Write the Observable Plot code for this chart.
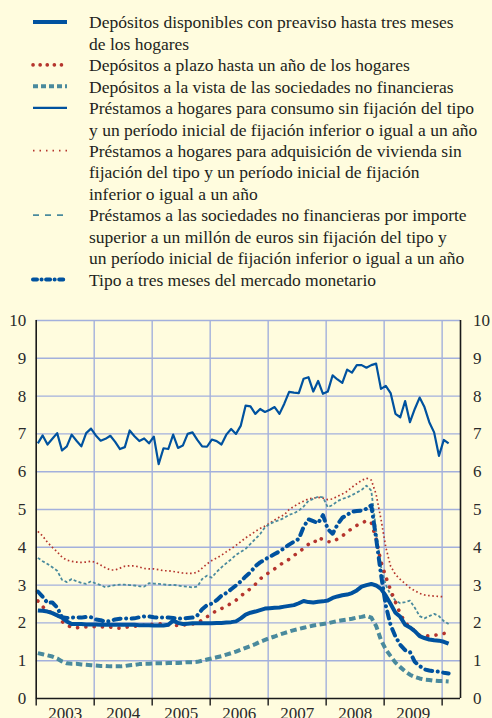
<!DOCTYPE html>
<html><head><meta charset="utf-8">
<script src="https://cdn.jsdelivr.net/npm/d3@7"></script>
<script src="https://cdn.jsdelivr.net/npm/@observablehq/plot@0.6"></script>
<style>
html,body{margin:0;padding:0;background:#fffcde;}
body{width:492px;height:718px;overflow:hidden;font-family:"Liberation Serif","Times New Roman",serif;}
#legend{display:block;}
#chart svg{display:block;}
</style></head><body>
<div id="legend"></div><div id="chart"></div>
<script>
// ---- data (monthly, Jan 2003 - Feb 2010) ----
const years = ["2003","2004","2005","2006","2007","2008","2009"];
const yTicks = [0,1,2,3,4,5,6,7,8,9,10];

const preaviso = [2.33,2.32,2.30,2.26,2.20,2.14,2.04,1.97,1.97,1.97,1.96,1.96,
1.96,1.95,1.95,1.95,1.95,1.95,1.95,1.95,1.95,1.94,1.94,1.94,
1.93,1.93,1.93,1.95,2.06,2.00,1.97,1.98,1.99,1.99,1.99,1.99,
1.99,2.00,2.00,2.01,2.02,2.04,2.12,2.22,2.27,2.30,2.34,2.38,
2.39,2.40,2.41,2.43,2.45,2.47,2.52,2.58,2.55,2.54,2.56,2.57,
2.59,2.66,2.70,2.73,2.75,2.79,2.86,2.96,3.00,3.03,2.99,2.90,
2.72,2.50,2.27,2.16,1.95,1.88,1.78,1.65,1.60,1.56,1.54,1.53,
1.50,1.45];

const plazo = [2.58,2.43,2.32,2.27,2.21,2.04,1.93,1.89,1.87,1.89,1.89,1.90,
1.90,1.89,1.89,1.89,1.87,1.86,1.88,1.90,1.91,1.92,1.94,1.96,
1.96,1.97,1.98,1.95,1.93,1.93,1.94,1.96,1.97,1.99,2.08,2.16,
2.25,2.32,2.38,2.44,2.52,2.60,2.72,2.80,2.91,3.02,3.16,3.27,
3.34,3.43,3.52,3.62,3.68,3.78,3.88,3.97,4.08,4.09,4.26,4.20,
4.15,4.14,4.22,4.30,4.40,4.50,4.58,4.63,4.71,4.65,4.22,3.62,
3.22,2.87,2.55,2.24,2.02,1.88,1.80,1.67,1.65,1.66,1.67,1.69,
1.72,1.74];

const vista = [1.20,1.17,1.14,1.11,1.06,0.98,0.93,0.92,0.92,0.90,0.89,0.88,
0.87,0.86,0.86,0.85,0.85,0.85,0.86,0.88,0.89,0.91,0.92,0.92,
0.93,0.93,0.93,0.94,0.94,0.94,0.95,0.96,0.96,0.97,1.00,1.03,
1.06,1.09,1.12,1.16,1.20,1.24,1.29,1.34,1.39,1.44,1.50,1.55,
1.60,1.64,1.69,1.73,1.77,1.81,1.84,1.87,1.90,1.93,1.95,1.97,
1.99,2.02,2.05,2.07,2.09,2.11,2.14,2.16,2.19,2.14,1.92,1.55,
1.30,1.12,0.95,0.83,0.72,0.63,0.57,0.53,0.50,0.49,0.47,0.46,
0.46,0.45];

const consumo = [6.75,6.96,6.72,6.87,7.02,6.56,6.67,6.98,6.82,6.67,7.02,7.14,
6.96,6.82,6.87,6.95,6.79,6.60,6.65,7.09,6.94,6.81,6.88,6.75,
6.93,6.20,6.62,6.60,6.98,6.63,6.69,7.00,7.04,6.84,6.67,6.66,
6.85,6.81,6.72,6.98,7.13,7.00,7.22,7.75,7.73,7.53,7.66,7.58,
7.64,7.71,7.53,7.80,8.11,8.09,8.08,8.46,8.50,8.12,8.40,8.06,
8.12,8.55,8.44,8.35,8.70,8.62,8.82,8.82,8.75,8.82,8.86,8.19,
8.27,8.08,7.53,7.44,7.87,7.31,7.66,7.96,7.71,7.31,7.04,6.42,
6.84,6.75];

const vivienda = [4.42,4.30,4.13,4.00,3.88,3.74,3.66,3.63,3.61,3.60,3.61,3.63,
3.60,3.53,3.46,3.40,3.40,3.45,3.50,3.51,3.51,3.48,3.44,3.43,
3.43,3.41,3.38,3.38,3.36,3.34,3.32,3.31,3.31,3.34,3.45,3.56,
3.65,3.72,3.79,3.88,3.96,4.05,4.15,4.25,4.33,4.42,4.50,4.56,
4.64,4.72,4.80,4.86,5.00,5.08,5.16,5.22,5.28,5.30,5.32,5.30,
5.26,5.28,5.35,5.41,5.48,5.59,5.68,5.77,5.83,5.78,5.40,4.75,
4.00,3.50,3.28,3.15,3.04,2.93,2.85,2.78,2.74,2.72,2.71,2.70,
2.69];

const empresas = [3.72,3.63,3.56,3.47,3.38,3.14,3.08,3.16,3.10,3.06,3.03,3.10,
3.04,3.00,2.94,2.98,3.00,3.01,3.01,3.00,2.99,2.97,2.96,3.05,
3.04,3.03,3.02,3.00,3.01,2.99,2.97,2.96,2.94,2.96,3.16,3.25,
3.20,3.35,3.47,3.58,3.68,3.80,3.88,3.96,4.09,4.22,4.35,4.53,
4.62,4.68,4.72,4.78,4.86,4.90,4.97,5.08,5.23,5.28,5.34,5.32,
5.06,5.12,5.22,5.28,5.32,5.38,5.45,5.52,5.63,5.50,4.45,3.50,
3.00,2.75,2.59,2.52,2.55,2.59,2.40,2.18,2.12,2.18,2.24,2.18,
2.05,1.97];

const euribor = [2.83,2.69,2.53,2.54,2.41,2.15,2.13,2.14,2.15,2.14,2.16,2.15,
2.09,2.07,2.03,2.05,2.09,2.11,2.12,2.11,2.12,2.15,2.17,2.17,
2.15,2.14,2.14,2.14,2.13,2.11,2.12,2.13,2.14,2.20,2.36,2.47,
2.51,2.60,2.72,2.79,2.89,2.99,3.10,3.23,3.34,3.50,3.60,3.68,
3.75,3.82,3.89,3.98,4.07,4.15,4.22,4.54,4.74,4.69,4.64,4.85,
4.48,4.36,4.60,4.78,4.86,4.94,4.96,4.97,5.02,5.11,4.24,3.29,
2.46,1.94,1.64,1.42,1.28,1.23,0.97,0.86,0.77,0.74,0.72,0.71,
0.68,0.66];

const labels = [
  ["Depósitos disponibles con preaviso hasta tres meses","de los hogares"],
  ["Depósitos a plazo hasta un año de los hogares"],
  ["Depósitos a la vista de las sociedades no financieras"],
  ["Préstamos a hogares para consumo sin fijación del tipo","y un período inicial de fijación inferior o igual a un año"],
  ["Préstamos a hogares para adquisición de vivienda sin","fijación del tipo y un período inicial de fijación","inferior o igual a un año"],
  ["Préstamos a las sociedades no financieras por importe","superior a un millón de euros sin fijación del tipo y","un período inicial de fijación inferior o igual a un año"],
  ["Tipo a tres meses del mercado monetario"]
];

// ---- styles ----
const BLUE = "#00529f", RED = "#b5352d", TEAL = "#4a8a9d", GRID = "#a3b0dc";
const styles = [
  {stroke: BLUE, strokeWidth: 4, strokeDasharray: null, strokeLinecap: "butt"},
  {stroke: RED, strokeWidth: 3.6, strokeDasharray: "0.1 8.2", strokeLinecap: "round"},
  {stroke: TEAL, strokeWidth: 4, strokeDasharray: "6.5 3.5", strokeLinecap: "butt"},
  {stroke: BLUE, strokeWidth: 2.2, strokeDasharray: null, strokeLinecap: "butt"},
  {stroke: RED, strokeWidth: 1.7, strokeDasharray: "1.6 2.6", strokeLinecap: "butt"},
  {stroke: TEAL, strokeWidth: 1.8, strokeDasharray: "3 2.2", strokeLinecap: "butt"},
  {stroke: BLUE, strokeWidth: 4, strokeDasharray: "7 5.5 0.1 5.5", strokeLinecap: "round"}
];
const legendSwatch = [
  {dash: null},
  {dash: "0.1 7"},
  {dash: "5 3"},
  {dash: null},
  {dash: "1.5 5"},
  {dash: "6 6"},
  {dash: "4 4.5 0.1 4.5"}
];
const seriesList = [preaviso, plazo, vista, consumo, vivienda, empresas, euribor];

// ---- legend ----
const LH = 21.45, BASE0 = 28.3;
const leg = d3.select("#legend").append("svg").attr("width", 492).attr("height", 300);
let line = 0;
labels.forEach((lines, k) => {
  const s = styles[k];
  const cy = BASE0 + line * LH - 6.3;
  leg.append("line").attr("x1", 33).attr("x2", 67).attr("y1", cy).attr("y2", cy)
    .attr("stroke", s.stroke).attr("stroke-width", s.strokeWidth)
    .attr("stroke-dasharray", legendSwatch[k].dash)
    .attr("stroke-linecap", s.strokeLinecap);
  lines.forEach(t => {
    leg.append("text").attr("x", 89).attr("y", BASE0 + line * LH)
      .attr("font-size", 17.5).attr("fill", "#231f20")
      .attr("font-family", "Liberation Serif, serif").text(t);
    line++;
  });
});

// ---- chart ----
const x0 = -0.34, x1 = 87.46;
const bounds = d3.range(0, 8).map(k => 12 * k - 0.34);
const mids = years.map((y, k) => ({label: y, x: 12 * k + 5.66}));
const rows = seriesList.map(arr => arr.map((v, i) => ({i, v})));

const lineMarks = [2, 4, 5, 1, 0, 6, 3].map(k => Plot.line(rows[k], {
  x: "i", y: "v", stroke: styles[k].stroke, strokeWidth: styles[k].strokeWidth,
  strokeDasharray: styles[k].strokeDasharray, strokeLinecap: styles[k].strokeLinecap,
  strokeLinejoin: "round"
}));

const chart = Plot.plot({
  width: 492, height: 418,
  marginTop: 16, marginBottom: 24, marginLeft: 35.7, marginRight: 32,
  style: {background: "transparent", fontFamily: "Liberation Serif, serif", fontSize: "17px", overflow: "visible"},
  x: {domain: [x0, x1], axis: null},
  y: {domain: [0, 10], axis: null},
  marks: [
    Plot.ruleY(yTicks.filter(d => d > 0), {stroke: GRID, strokeWidth: 1.4}),
    Plot.ruleX(bounds.slice(1), {stroke: GRID, strokeWidth: 1.4}),
    ...lineMarks,
    Plot.ruleX([x0, x1], {stroke: "#1a1a1a", strokeWidth: 1.6}),
    Plot.ruleY([0], {stroke: "#1a1a1a", strokeWidth: 1.6}),
    Plot.ruleX(bounds, {y1: 0, y2: -0.2, stroke: "#1a1a1a", strokeWidth: 1.4}),
    Plot.text(yTicks, {x: x0, y: d => d, dx: -10, textAnchor: "end", fill: "#2a2a2a", fontSize: 17}),
    Plot.text(yTicks, {x: x1, y: d => d, dx: 12.5, textAnchor: "start", fill: "#2a2a2a", fontSize: 17}),
    Plot.text(mids, {x: "x", y: 0, text: "label", dy: 8, lineAnchor: "top", fill: "#2a2a2a", fontSize: 17})
  ]
});
document.getElementById("chart").appendChild(chart);
</script>
</body></html>
